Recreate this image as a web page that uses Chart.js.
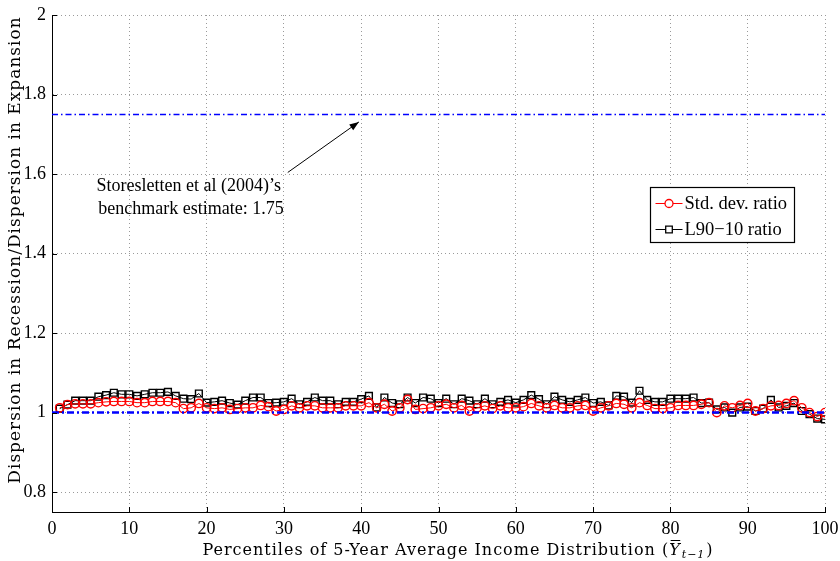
<!DOCTYPE html>
<html>
<head>
<meta charset="utf-8">
<script src="https://cdn.jsdelivr.net/npm/chart.js@4.4.1/dist/chart.umd.min.js"></script>
<style>
  body { margin: 0; background: #fff; }
  #chart { display: block; }
</style>
</head>
<body>
<canvas id="chart" width="840" height="561"></canvas>
<script>
// percentiles of the 5-year average income distribution
const percentiles = [
    1, 2, 3, 4, 5, 6, 7, 8, 9, 10, 11, 12, 13, 14, 15, 16, 17, 18, 19, 20,
    21, 22, 23, 24, 25, 26, 27, 28, 29, 30, 31, 32, 33, 34, 35, 36, 37, 38, 39, 40,
    41, 42, 43, 44, 45, 46, 47, 48, 49, 50, 51, 52, 53, 54, 55, 56, 57, 58, 59, 60,
    61, 62, 63, 64, 65, 66, 67, 68, 69, 70, 71, 72, 73, 74, 75, 76, 77, 78, 79, 80,
    81, 82, 83, 84, 85, 86, 87, 88, 89, 90, 91, 92, 93, 94, 95, 96, 97, 98, 99, 100
];

const stdRatio = [
    1.012, 1.020, 1.022, 1.022, 1.022, 1.025, 1.027, 1.028, 1.028, 1.028,
    1.025, 1.025, 1.028, 1.028, 1.028, 1.025, 1.010, 1.012, 1.023, 1.012,
    1.010, 1.012, 1.008, 1.010, 1.012, 1.012, 1.018, 1.015, 1.004, 1.008,
    1.017, 1.012, 1.017, 1.017, 1.012, 1.012, 1.012, 1.017, 1.017, 1.017,
    1.025, 1.012, 1.021, 1.004, 1.012, 1.033, 1.008, 1.010, 1.012, 1.017,
    1.021, 1.012, 1.018, 1.004, 1.012, 1.017, 1.010, 1.017, 1.012, 1.012,
    1.015, 1.023, 1.017, 1.012, 1.018, 1.012, 1.012, 1.017, 1.018, 1.004,
    1.012, 1.017, 1.023, 1.021, 1.012, 1.025, 1.018, 1.010, 1.010, 1.012,
    1.018, 1.018, 1.018, 1.021, 1.025, 1.000, 1.017, 1.012, 1.018, 1.023,
    1.004, 1.010, 1.017, 1.018, 1.023, 1.030, 1.012, 1.000, 0.990, 1.000
];

const l9010Ratio = [
    1.010, 1.020, 1.030, 1.030, 1.030, 1.040, 1.044, 1.050, 1.046, 1.046,
    1.042, 1.046, 1.050, 1.050, 1.052, 1.042, 1.035, 1.034, 1.048, 1.025,
    1.027, 1.030, 1.024, 1.020, 1.030, 1.038, 1.038, 1.024, 1.025, 1.027,
    1.035, 1.021, 1.027, 1.038, 1.030, 1.030, 1.021, 1.027, 1.027, 1.034,
    1.042, 1.013, 1.038, 1.024, 1.021, 1.038, 1.024, 1.038, 1.035, 1.024,
    1.035, 1.021, 1.035, 1.030, 1.021, 1.035, 1.021, 1.027, 1.032, 1.025,
    1.032, 1.044, 1.034, 1.021, 1.040, 1.032, 1.027, 1.032, 1.038, 1.024,
    1.027, 1.018, 1.042, 1.040, 1.025, 1.055, 1.032, 1.027, 1.027, 1.035,
    1.035, 1.035, 1.038, 1.024, 1.025, 1.008, 1.013, 1.000, 1.013, 1.015,
    1.004, 1.010, 1.032, 1.013, 1.017, 1.024, 1.004, 0.996, 0.985, 0.983
];

const refLevels = [1.0, 1.75];      // no-change line and the benchmark estimate
const xRange = [0, 100];
const xTicks = [0, 10, 20, 30, 40, 50, 60, 70, 80, 90, 100];
const yTicks = [0.8, 1.0, 1.2, 1.4, 1.6, 1.8, 2.0];

const seriesNames = ['Std. dev. ratio', 'L90\u221210 ratio'];
const noteLines = ['Storesletten et al (2004)\u2019s', ' benchmark estimate: 1.75'];
const yTitle = 'Dispersion in Recession/Dispersion in Expansion';
const xTitle = 'Percentiles of 5-Year Average Income Distribution (';

const serif = '"Liberation Serif", "Times New Roman", serif';
const titleFont = '"DejaVu Serif", serif';

const toPoints = (ys) => percentiles.map((p, i) => ({ x: p, y: ys[i] }));
const flat = (v) => xRange.map(x => ({ x: x, y: v }));

// titles, note with arrow, legend box and inward ticks
const decorations = {
    id: 'decorations',
    afterDraw(chart) {
        const ctx = chart.ctx;
        const xs = chart.scales.x, ys = chart.scales.y;
        const area = chart.chartArea;
        ctx.save();

        // inward ticks
        ctx.strokeStyle = '#000';
        ctx.lineWidth = 1;
        ctx.beginPath();
        xTicks.forEach(t => {
            const px = Math.round(xs.getPixelForValue(t)) + 0.5;
            ctx.moveTo(px, area.bottom);
            ctx.lineTo(px, area.bottom - 5);
        });
        yTicks.forEach(t => {
            const py = Math.round(ys.getPixelForValue(t)) + 0.5;
            ctx.moveTo(area.left, py);
            ctx.lineTo(area.left + 5, py);
        });
        ctx.stroke();

        // y title
        ctx.fillStyle = '#000';
        ctx.font = '17px ' + titleFont;
        ctx.letterSpacing = '1px';
        ctx.textAlign = 'center';
        ctx.textBaseline = 'middle';
        ctx.save();
        ctx.translate(16, 250);
        ctx.rotate(-Math.PI / 2);
        ctx.fillText(yTitle, 0, 0);
        ctx.restore();

        // x title with Y-bar sub t-1
        ctx.font = '16px ' + titleFont;
        const w1 = ctx.measureText(xTitle).width;
        ctx.font = 'italic 16px ' + titleFont;
        const wY = ctx.measureText('Y').width;
        ctx.font = 'italic 11px ' + titleFont;
        const wSub = ctx.measureText('t\u22121').width;
        ctx.font = '16px ' + titleFont;
        const wP = ctx.measureText(')').width;
        const total = w1 + wY + wSub + wP + 2;
        let tx = 458 - total / 2;
        const ty = 555;
        ctx.textAlign = 'left';
        ctx.textBaseline = 'alphabetic';
        ctx.fillText(xTitle, tx, ty);
        tx += w1;
        ctx.font = 'italic 16px ' + titleFont;
        ctx.fillText('Y', tx, ty);
        ctx.beginPath();
        ctx.moveTo(tx + 1.5, ty - 14.5);
        ctx.lineTo(tx + wY - 0.5, ty - 14.5);
        ctx.lineWidth = 1;
        ctx.stroke();
        tx += wY + 1;
        ctx.font = 'italic 11px ' + titleFont;
        ctx.fillText('t\u22121', tx, ty + 3);
        tx += wSub + 1;
        ctx.font = '16px ' + titleFont;
        ctx.fillText(')', tx, ty);
        ctx.letterSpacing = '0px';

        // note and arrow
        ctx.font = '18px ' + serif;
        ctx.textAlign = 'center';
        ctx.textBaseline = 'middle';
        const nx = xs.getPixelForValue(17.7);
        ctx.fillText(noteLines[0], nx, ys.getPixelForValue(1.570));
        ctx.fillText(noteLines[1], nx, ys.getPixelForValue(1.511));

        const ax0 = xs.getPixelForValue(30.5), ay0 = ys.getPixelForValue(1.604);
        const ax1 = xs.getPixelForValue(39.7), ay1 = ys.getPixelForValue(1.731);
        ctx.beginPath();
        ctx.moveTo(ax0, ay0);
        ctx.lineTo(ax1, ay1);
        ctx.lineWidth = 1;
        ctx.stroke();
        const ang = Math.atan2(ay1 - ay0, ax1 - ax0);
        ctx.beginPath();
        ctx.moveTo(ax1, ay1);
        ctx.lineTo(ax1 - 10 * Math.cos(ang - 0.35), ay1 - 10 * Math.sin(ang - 0.35));
        ctx.lineTo(ax1 - 10 * Math.cos(ang + 0.35), ay1 - 10 * Math.sin(ang + 0.35));
        ctx.closePath();
        ctx.fill();

        // legend
        const lx0 = Math.round(xs.getPixelForValue(77.3)) + 0.5;
        const lx1 = Math.round(xs.getPixelForValue(96.0)) + 0.5;
        const ly0 = Math.round(ys.getPixelForValue(1.567)) + 0.5;
        const ly1 = Math.round(ys.getPixelForValue(1.429)) + 0.5;
        ctx.fillStyle = '#fff';
        ctx.fillRect(lx0, ly0, lx1 - lx0, ly1 - ly0);
        ctx.strokeStyle = '#000';
        ctx.lineWidth = 1.2;
        ctx.strokeRect(lx0, ly0, lx1 - lx0, ly1 - ly0);
        const rows = [ly0 + 16, ly0 + 42];
        const colors = ['#ff0000', '#000000'];
        rows.forEach((ry, i) => {
            ctx.strokeStyle = colors[i];
            ctx.lineWidth = 1;
            ctx.beginPath();
            ctx.moveTo(lx0 + 5, ry);
            ctx.lineTo(lx0 + 32, ry);
            ctx.stroke();
            const mx = lx0 + 18.5;
            ctx.beginPath();
            if (i === 0) ctx.arc(mx, ry, 4, 0, 2 * Math.PI);
            else ctx.rect(mx - 3.3, ry - 3.3, 6.6, 6.6);
            ctx.fillStyle = '#fff';
            ctx.fill();
            ctx.lineWidth = 1.3;
            ctx.stroke();
            ctx.fillStyle = '#000';
            ctx.font = '18.5px ' + serif;
            ctx.textAlign = 'left';
            ctx.textBaseline = 'middle';
            ctx.fillText(seriesNames[i], lx0 + 34, ry + 1);
        });
        ctx.restore();
    }
};

new Chart(document.getElementById('chart').getContext('2d'), {
    type: 'line',
    data: {
        datasets: [
            {
                label: 'ref1',
                data: flat(refLevels[0]),
                borderColor: '#0000ff',
                borderWidth: 2.5,
                borderDash: [7, 3, 2, 3],
                pointRadius: 0,
                order: 0
            },
            {
                label: 'ref2',
                data: flat(refLevels[1]),
                borderColor: '#0000ff',
                borderWidth: 1.5,
                borderDash: [6, 3, 1.5, 3],
                pointRadius: 0,
                order: 0
            },
            {
                label: seriesNames[0],
                data: toPoints(stdRatio),
                borderColor: '#ff0000',
                borderWidth: 1,
                pointStyle: 'circle',
                pointRadius: 4.2,
                pointBorderWidth: 1.4,
                pointBackgroundColor: 'rgba(255,255,255,0)',
                pointBorderColor: '#ff0000',
                order: 1
            },
            {
                label: seriesNames[1],
                data: toPoints(l9010Ratio),
                borderColor: '#000000',
                borderWidth: 1,
                pointStyle: 'rect',
                pointRadius: 4.8,
                pointBorderWidth: 1.4,
                pointBackgroundColor: 'rgba(255,255,255,0)',
                pointBorderColor: '#000000',
                order: 2
            }
        ]
    },
    plugins: [decorations],
    options: {
        responsive: false,
        animation: false,
        layout: { padding: { top: 15, right: 15, left: 0, bottom: 0 } },
        plugins: {
            legend: { display: false },
            tooltip: { enabled: false }
        },
        scales: {
            x: {
                type: 'linear',
                min: xRange[0],
                max: xRange[1],
                afterBuildTicks: (s) => { s.ticks = xTicks.map(v => ({ value: v })); },
                afterFit: (s) => { s.height = 49; s.paddingLeft = 0; s.paddingRight = 0; },
                ticks: {
                    color: '#000',
                    padding: 6,
                    font: { family: serif, size: 18 }
                },
                grid: { color: '#9a9a9a', drawTicks: false },
                border: { display: true, color: '#000', width: 1, dash: [1, 3] }
            },
            y: {
                min: 0.75,
                max: 2,
                afterBuildTicks: (s) => { s.ticks = yTicks.map(v => ({ value: v })); },
                afterFit: (s) => { s.width = 52; s.paddingTop = 0; s.paddingBottom = 0; },
                ticks: {
                    color: '#000',
                    padding: 6,
                    font: { family: serif, size: 18 },
                    callback: (v) => String(+v.toFixed(1))
                },
                grid: { color: '#9a9a9a', drawTicks: false },
                border: { display: true, color: '#000', width: 1, dash: [1, 3] }
            }
        }
    }
});
</script>
</body>
</html>
